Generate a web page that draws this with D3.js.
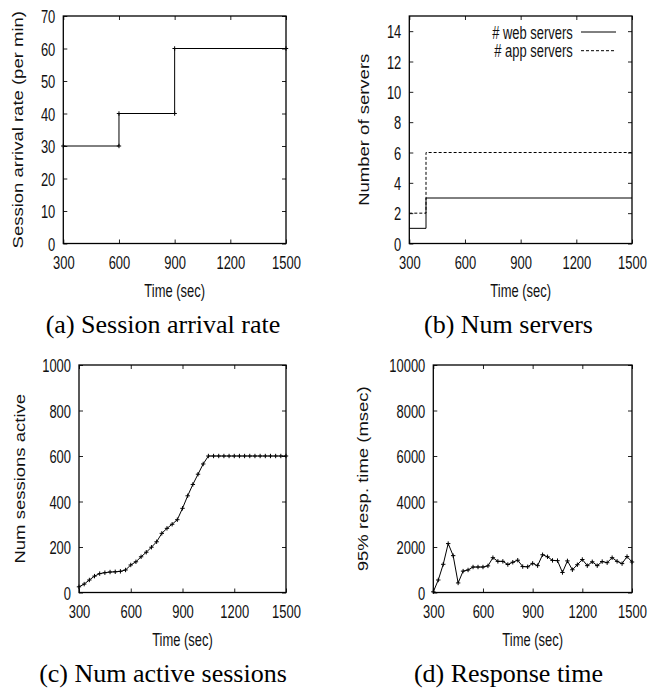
<!DOCTYPE html>
<html><head><meta charset="utf-8">
<script src="https://cdn.jsdelivr.net/npm/d3@7"></script>
<style>body{margin:0;background:#fff} svg{display:block}</style>
</head><body>
<svg id="c" width="652" height="689"></svg>
<script>
// ---------- data ----------
const xTicks = [300, 600, 900, 1200, 1500];

const rateTime  = [300, 600, 600, 900, 900, 1500];
const rateValue = [30, 30, 40, 40, 60, 60];
const rateTicks = [0, 10, 20, 30, 40, 50, 60, 70];

const serverTime  = [300, 390, 1500];
const webServers  = [1, 3, 3];
const appServers  = [2, 6, 6];
const serverTicks = [0, 2, 4, 6, 8, 10, 12, 14];
const serverLegend = ["# web servers", "# app servers"];

const sampleTime = [300, 330, 360, 390, 420, 450, 480, 510, 540, 570,
                    600, 630, 660, 690, 720, 750, 780, 810, 840, 870,
                    900, 930, 960, 990, 1020, 1050, 1080, 1110, 1140, 1170,
                    1200, 1230, 1260, 1290, 1320, 1350, 1380, 1410, 1440, 1470, 1500];
const activeSessions = [25, 37, 55, 72, 83, 87, 90, 91, 93, 99,
                        121, 135, 157, 177, 199, 223, 260, 282, 300, 320,
                        370, 425, 475, 520, 565, 600, 600, 600, 600, 600,
                        600, 600, 600, 600, 600, 600, 600, 600, 600, 600, 600];
const sessionTicks = [0, 200, 400, 600, 800, 1000];

const respTime = [30, 550, 1240, 2150, 1620, 420, 940, 990, 1120, 1120,
                  1120, 1170, 1530, 1370, 1370, 1230, 1330, 1420, 1140, 1130,
                  1280, 1180, 1660, 1570, 1410, 1400, 880, 1390, 1000, 1220,
                  1450, 1180, 1350, 1180, 1360, 1310, 1530, 1370, 1270, 1580, 1340];
const respTicks = [0, 2000, 4000, 6000, 8000, 10000];

const xTitle = "Time (sec)";
const yTitles = ["Session arrival rate (per min)", "Number of servers", "Num sessions active", "95% resp. time (msec)"];
const captions = ["(a) Session arrival rate", "(b) Num servers", "(c) Num active sessions", "(d) Response time"];

// ---------- style / layout ----------
const SANS = "'Liberation Sans', Arial, Helvetica, sans-serif";
const SERIF = "'Liberation Serif', 'Times New Roman', Times, serif";
const FS = 18.5, SX = 0.7, RSX = 0.75;

const svg = d3.select("#c");
svg.append("rect").attr("width", 652).attr("height", 689).attr("fill", "#fff");

function makePanel(box, yMax, yTicks, yTitle, yTitleX, caption, capX, capY, xTitleY) {
  const x = d3.scaleLinear().domain([300, 1500]).range([box.x0, box.x1]);
  const y = d3.scaleLinear().domain([0, yMax]).range([box.y1, box.y0]);
  const g = svg.append("g");

  const styleAxis = a => {
    a.select(".domain").remove();
    a.selectAll("line").attr("stroke", "#222").attr("stroke-width", 1);
    a.attr("font-family", SANS).attr("font-size", FS);
  };
  const ab = g.append("g").attr("transform", `translate(0,${box.y1})`)
    .call(d3.axisBottom(x).tickValues(xTicks).tickSizeInner(-4).tickSizeOuter(0).tickFormat(d => String(d)));
  styleAxis(ab);
  ab.selectAll("text").attr("y", 0).attr("dy", 0)
    .attr("transform", `translate(0,25.8) scale(${SX},1)`).attr("fill", "#111");
  const at = g.append("g").attr("transform", `translate(0,${box.y0})`)
    .call(d3.axisTop(x).tickValues(xTicks).tickSizeInner(-4).tickSizeOuter(0).tickFormat(""));
  styleAxis(at);
  const al = g.append("g").attr("transform", `translate(${box.x0},0)`)
    .call(d3.axisLeft(y).tickValues(yTicks).tickSizeInner(-4).tickSizeOuter(0).tickFormat(d => String(d)));
  styleAxis(al);
  al.selectAll("text").attr("x", 0).attr("dy", 0)
    .attr("transform", `translate(-8,6.6) scale(${SX},1)`).attr("text-anchor", "end").attr("fill", "#111");
  const ar = g.append("g").attr("transform", `translate(${box.x1},0)`)
    .call(d3.axisRight(y).tickValues(yTicks).tickSizeInner(-4).tickSizeOuter(0).tickFormat(""));
  styleAxis(ar);

  g.append("rect").attr("x", box.x0).attr("y", box.y0)
    .attr("width", box.x1 - box.x0).attr("height", box.y1 - box.y0)
    .attr("fill", "none").attr("stroke", "#000").attr("stroke-width", 1.3);

  g.append("text").attr("transform", `translate(${(box.x0 + box.x1) / 2},${xTitleY}) scale(${SX},1)`)
    .attr("text-anchor", "middle").attr("font-family", SANS).attr("font-size", FS).attr("fill", "#111").text(xTitle);
  g.append("text").attr("transform", `translate(${yTitleX},${(box.y0 + box.y1) / 2}) scale(${RSX},1) rotate(-90)`)
    .attr("text-anchor", "middle").attr("font-family", SANS).attr("font-size", FS).attr("fill", "#111").text(yTitle);
  svg.append("text").attr("x", capX).attr("y", capY).attr("text-anchor", "middle")
    .attr("font-family", SERIF).attr("font-size", 26).attr("fill", "#000").text(caption);
  return {g, x, y};
}

function linesPoints(p, xs, ys) {
  const pts = xs.map((t, i) => [t, ys[i]]);
  p.g.append("path").datum(pts)
    .attr("d", d3.line().x(d => p.x(d[0])).y(d => p.y(d[1])))
    .attr("fill", "none").attr("stroke", "#000").attr("stroke-width", 1);
  p.g.selectAll(null).data(pts).enter().append("path")
    .attr("transform", d => `translate(${p.x(d[0])},${p.y(d[1])})`)
    .attr("d", "M-2.2,0H2.2M0,-2.2V2.2")
    .attr("stroke", "#000").attr("stroke-width", 1);
}

const pa = makePanel({x0: 63.3, x1: 286, y0: 16, y1: 243.5}, 70, rateTicks, yTitles[0], 23, captions[0], 163, 333, 296.5);
linesPoints(pa, rateTime, rateValue);

const pb = makePanel({x0: 409.3, x1: 632, y0: 16, y1: 243.5}, 15, serverTicks, yTitles[1], 368.5, captions[1], 508.5, 333, 296.5);
const stepLine = d3.line().x(d => pb.x(d[0])).y(d => pb.y(d[1])).curve(d3.curveStepAfter);
pb.g.append("path").datum(serverTime.map((t, i) => [t, appServers[i]]))
  .attr("d", stepLine).attr("fill", "none").attr("stroke", "#000").attr("stroke-width", 1).attr("stroke-dasharray", "3,2");
pb.g.append("path").datum(serverTime.map((t, i) => [t, webServers[i]]))
  .attr("d", stepLine).attr("fill", "none").attr("stroke", "#000").attr("stroke-width", 1);
serverLegend.forEach((lab, i) => {
  const ly = 32 + i * 18.7;
  pb.g.append("text").attr("transform", `translate(572.7,${ly + 6.6}) scale(${SX},1)`)
    .attr("text-anchor", "end").attr("font-family", SANS).attr("font-size", FS).attr("fill", "#111").text(lab);
  pb.g.append("line").attr("x1", 581).attr("x2", 616).attr("y1", ly).attr("y2", ly)
    .attr("stroke", "#000").attr("stroke-width", 1).attr("stroke-dasharray", i === 1 ? "3,2" : null);
});

const pc = makePanel({x0: 79, x1: 286, y0: 365, y1: 592.5}, 1000, sessionTicks, yTitles[2], 25, captions[2], 163, 682, 645.5);
linesPoints(pc, sampleTime, activeSessions);

const pd = makePanel({x0: 433.3, x1: 632, y0: 365, y1: 592.5}, 10000, respTicks, yTitles[3], 368, captions[3], 508.5, 682, 645.5);
linesPoints(pd, sampleTime, respTime);
</script>
</body></html>
